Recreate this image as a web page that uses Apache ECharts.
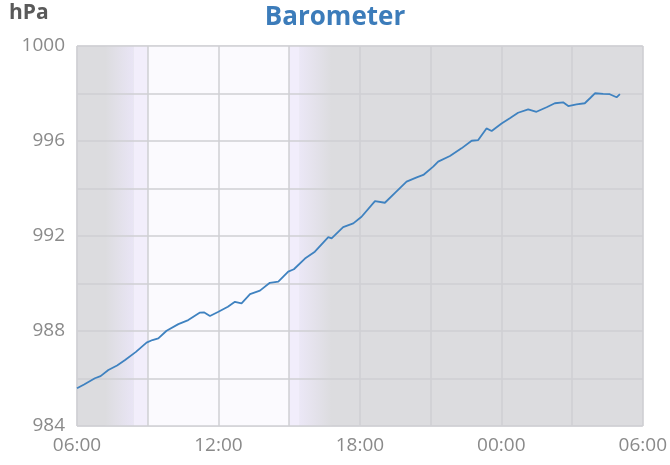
<!DOCTYPE html>
<html>
<head>
<meta charset="utf-8">
<script src="https://cdn.jsdelivr.net/npm/echarts@6/dist/echarts.min.js"></script>
<style>
html,body{margin:0;padding:0;background:#fff;}
#c{width:670px;height:465px;}
</style>
</head>
<body>
<div id="c"></div>
<script>
// hours since 06:00
const hours = [0,0.3,0.76,1.0,1.33,1.7,2.04,2.5,2.95,3.2,3.45,3.8,4.3,4.72,5.2,5.4,5.64,6.0,6.4,6.7,6.98,7.34,7.76,8.18,8.54,8.96,9.2,9.67,10.09,10.66,10.8,11.29,11.72,12.07,12.64,13.06,13.49,13.98,14.41,14.69,15.11,15.32,15.82,16.31,16.74,17.02,17.37,17.59,18.01,18.36,18.71,19.14,19.49,19.92,20.27,20.62,20.84,21.19,21.54,21.76,21.97,22.32,22.6,22.89,23.03];
const pressure = [985.59,985.75,986.01,986.1,986.36,986.55,986.78,987.12,987.51,987.62,987.69,988.01,988.29,988.46,988.77,988.78,988.63,988.81,989.02,989.23,989.16,989.55,989.70,990.03,990.08,990.50,990.6,991.05,991.34,991.95,991.9,992.37,992.53,992.81,993.47,993.40,993.82,994.29,994.47,994.57,994.92,995.13,995.37,995.69,996.01,996.04,996.53,996.42,996.74,996.96,997.19,997.33,997.23,997.42,997.59,997.63,997.47,997.54,997.59,997.80,998.01,997.98,997.97,997.84,997.97];
const xTickLabels = ['06:00','12:00','18:00','00:00','06:00'];
// daylight band edges (hours since 06:00)
const dawnStart = 1.2, dawnFull = 2.4, sunrise = 3.0, sunset = 9.0, duskFull = 9.45, duskEnd = 10.8;

const G = echarts.graphic.LinearGradient;
const chart = echarts.init(document.getElementById('c'));
chart.setOption({
  animation:false,
  title:{
    text:'Barometer', left:'center', top:0, z:10,
    textStyle:{color:'#3c7cba',fontSize:26,fontWeight:'bold',fontFamily:'Open Sans'}
  },
  graphic:[{type:'text',left:9,top:3,z:10,style:{text:'hPa',fill:'#5a5a5a',font:'bold 21px "Open Sans"'}}],
  grid:{left:77,right:27,top:46,bottom:39,show:true,z:0,backgroundColor:'#dcdcdf',borderColor:'#d4d4d6',borderWidth:1},
  xAxis:{
    type:'value',min:0,max:24,interval:3,z:3,
    axisLine:{show:false},axisTick:{show:false},
    splitLine:{show:true,lineStyle:{color:'#cfcfd3',width:1.5}},
    axisLabel:{color:'#8a8a8a',fontSize:19,fontFamily:'Open Sans',margin:10,
      formatter:v=> (v%6===0 ? xTickLabels[v/6] : '')}
  },
  yAxis:{
    type:'value',min:984,max:1000,interval:2,z:3,
    axisLine:{show:false},axisTick:{show:false},
    splitLine:{show:true,lineStyle:{color:'#cfcfd3',width:1.5}},
    axisLabel:{color:'#8a8a8a',fontSize:19,fontFamily:'Open Sans',margin:12,
      formatter:v=> (v%4===0 ? String(v) : '')}
  },
  series:[{
    type:'line',
    z:1,
    data:[],
    markArea:{
      silent:true,
      data:[
        [{xAxis:dawnStart,itemStyle:{color:new G(0,0,1,0,[{offset:0,color:'#dcdcdf'},{offset:1,color:'#e9e5f5'}])}},{xAxis:dawnFull}],
        [{xAxis:dawnFull,itemStyle:{color:'#f2eefb'}},{xAxis:sunrise}],
        [{xAxis:sunrise,itemStyle:{color:'#fbfafe'}},{xAxis:sunset}],
        [{xAxis:sunset,itemStyle:{color:'#f1edfb'}},{xAxis:duskFull}],
        [{xAxis:duskFull,itemStyle:{color:new G(0,0,1,0,[{offset:0,color:'#ebe7f6'},{offset:1,color:'#dcdcdf'}])}},{xAxis:duskEnd}]
      ]
    }
  },{
    type:'line',
    data:hours.map((h,i)=>[h,pressure[i]]),
    showSymbol:false,
    lineStyle:{color:'#3f82c0',width:1.8},
    z:5
  }]
});
</script>
</body>
</html>
